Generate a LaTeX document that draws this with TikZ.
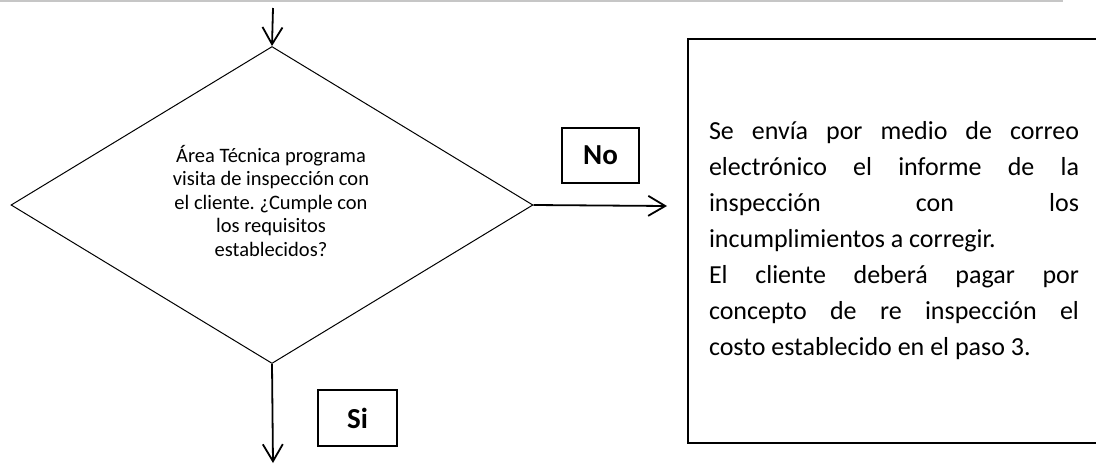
\documentclass[tikz,border=0pt]{standalone}
\usepackage{fontspec}
\setmainfont{Carlito}
\frenchspacing
\usetikzlibrary{shapes.geometric,arrows.meta}
\tikzset{
  flowarrow/.style={line width=1.8pt,-{Straight Barb[length=17pt,width=20pt,line width=1.8pt]}},
  decision/.style={diamond,draw,line width=1pt,minimum width=522pt,minimum height=317pt,aspect=1.65,inner sep=0pt},
  dectext/.style={align=center,inner sep=0pt,font=\fontsize{20.5}{23.5}\selectfont},
  labelbox/.style={draw,line width=1.3pt,minimum width=77pt,minimum height=55pt,font=\fontsize{29}{32}\selectfont\bfseries},
  textbox/.style={minimum width=440pt,minimum height=404pt,inner sep=0pt},
  boxline/.style={line width=1.5pt}
}
\begin{document}
\begin{tikzpicture}[x=1pt,y=-1pt]
\useasboundingbox (0,0) rectangle (1096,464);
\draw[gray!45,line width=1.5pt] (0,1) -- (1063,1);
\node[decision] (dec) at (272,205) {};
\node[dectext] (dect) at (271,201) {Área Técnica programa\\visita de inspección con\\el cliente. ¿Cumple con\\los requisitos\\establecidos?};
\coordinate (top) at (273,8);
\coordinate (bot) at (273,463);
\coordinate (noend) at (667,206);
\draw[flowarrow] (top) -- (dec.north);
\draw[flowarrow] (dec.south) -- (bot);
\draw[flowarrow] (dec.east) -- (noend);
\node[labelbox] (no) at (600.5,155.5) {No};
\node[labelbox,minimum width=79pt,minimum height=56pt] (si) at (357.5,418) {Si};
\node[textbox] (info) at (908,241) {\hspace*{-28pt}\parbox{370pt}{\fontsize{26}{36}\selectfont\hbadness=10000
Se envía por medio de correo\linebreak electrónico el informe de la\linebreak inspección con los\linebreak incumplimientos a corregir.\\
El cliente deberá pagar por\linebreak concepto de re inspección el\linebreak costo establecido en el paso 3.}};
\draw[boxline] (info.north east) -- (info.north west) -- (info.south west) -- (info.south east);
\end{tikzpicture}
\end{document}
